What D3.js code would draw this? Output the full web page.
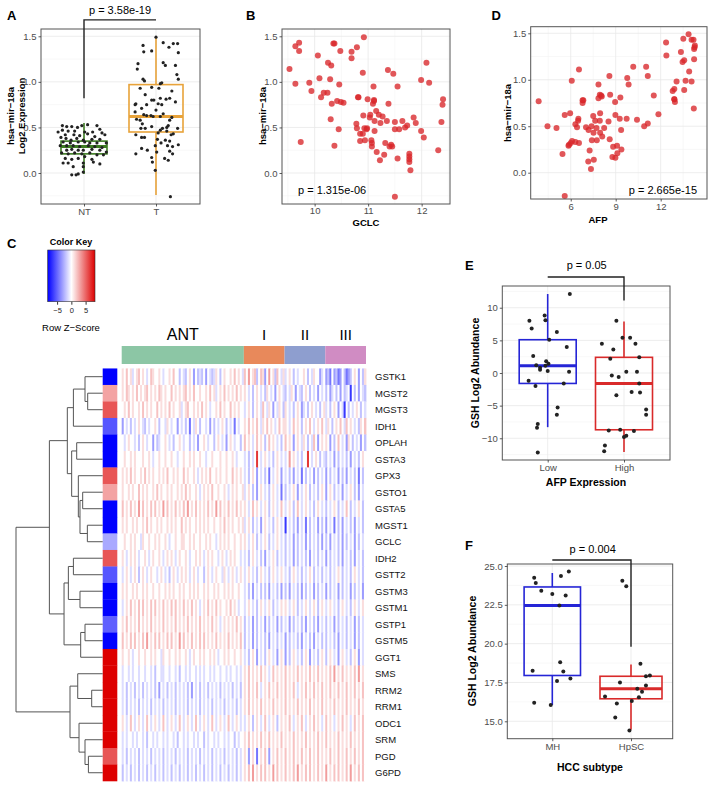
<!DOCTYPE html>
<html><head><meta charset="utf-8">
<script src="https://cdn.jsdelivr.net/npm/d3@7"></script>
<style>body{margin:0;background:#fff}svg{font-family:"Liberation Sans",Arial,Helvetica,sans-serif}</style>
</head><body><svg id="c" width="709" height="786"></svg>
<script>
// ================= DATA =================
// Panel A: [jitter (fraction of category step), log2 expression]
const groupsA = ["NT", "T"];
const ntPoints = [[-0.30,0.52],[-0.24,0.51],[-0.17,0.51],[-0.09,0.50],[-0.03,0.52],[0.05,0.53],[0.18,0.52],[0.22,0.48],[-0.36,0.45],[-0.30,0.47],[-0.22,0.46],[-0.13,0.46],[0.01,0.45],[0.12,0.45],[0.25,0.44],[-0.26,0.42],[-0.14,0.42],[-0.06,0.41],[0.05,0.43],[0.15,0.40],[0.29,0.42],[-0.32,0.39],[-0.25,0.38],[-0.18,0.36],[-0.10,0.38],[-0.01,0.36],[0.11,0.37],[0.22,0.37],[-0.29,0.34],[-0.19,0.33],[-0.08,0.34],[0.01,0.34],[0.08,0.33],[0.18,0.33],[0.31,0.33],[-0.33,0.30],[-0.24,0.30],[-0.15,0.30],[-0.06,0.29],[0.06,0.30],[0.15,0.29],[0.25,0.28],[-0.24,0.25],[-0.17,0.26],[-0.08,0.25],[-0.01,0.25],[0.11,0.26],[0.22,0.25],[0.31,0.23],[-0.31,0.22],[-0.22,0.21],[-0.13,0.22],[-0.03,0.21],[0.08,0.22],[0.18,0.20],[0.27,0.20],[-0.26,0.16],[-0.17,0.15],[-0.08,0.16],[0.01,0.18],[0.11,0.15],[-0.29,0.11],[-0.22,0.11],[-0.01,0.11],[0.13,0.12],[0.22,0.10],[-0.15,0.07],[-0.01,0.07],[-0.17,-0.02],[-0.11,-0.02],[-0.08,-0.01],[-0.01,0.01]];
const tPoints = [[0.00,1.49],[-0.18,1.40],[0.10,1.43],[0.24,1.42],[0.30,1.42],[-0.06,1.34],[-0.17,1.33],[0.31,1.32],[0.18,1.38],[-0.25,1.20],[0.10,1.21],[-0.26,1.14],[0.13,1.18],[0.29,1.08],[0.27,1.18],[-0.18,1.03],[-0.16,1.01],[0.31,1.03],[0.08,0.99],[0.06,0.98],[-0.06,0.94],[-0.22,0.93],[0.04,0.93],[0.22,0.90],[0.14,0.81],[-0.03,0.80],[-0.06,0.80],[-0.15,0.86],[0.06,0.82],[0.19,0.82],[0.27,0.78],[-0.28,0.76],[-0.29,0.75],[-0.13,0.75],[0.03,0.76],[-0.20,0.71],[0.08,0.75],[0.00,0.69],[-0.29,0.67],[0.10,0.65],[-0.17,0.64],[-0.13,0.63],[-0.07,0.63],[0.06,0.62],[-0.04,0.62],[0.22,0.61],[0.19,0.58],[-0.27,0.59],[-0.22,0.58],[-0.19,0.54],[0.17,0.52],[-0.06,0.51],[0.15,0.50],[-0.15,0.49],[-0.21,0.49],[0.06,0.47],[0.30,0.49],[0.09,0.49],[0.15,0.46],[0.21,0.42],[0.24,0.43],[-0.28,0.42],[0.03,0.44],[-0.16,0.39],[-0.20,0.39],[0.02,0.37],[0.13,0.36],[0.19,0.35],[0.31,0.31],[0.07,0.33],[0.16,0.30],[-0.01,0.30],[-0.20,0.27],[-0.12,0.25],[0.23,0.29],[0.19,0.24],[0.01,0.23],[-0.28,0.21],[0.23,0.21],[0.12,0.16],[0.17,0.14],[-0.06,0.17],[-0.05,0.12],[-0.01,0.03],[0.20,-0.26]];
// box stats: [lower whisker, Q1, median, Q3, upper whisker]
const boxA = [[-0.01,0.21,0.29,0.35,0.55],[-0.24,0.45,0.62,0.97,1.49]];
const ticksA = [0, 0.5, 1.0, 1.5];
const pA = "p = 3.58e-19";

// Panel B: [GCLC, hsa-mir-18a]
const gclcPoints = [[9.53,1.14],[9.64,1.39],[9.71,1.43],[9.71,1.34],[9.64,0.98],[9.90,0.99],[9.94,0.90],[9.74,0.34],[10.06,1.29],[10.09,1.04],[10.12,0.83],[10.17,0.88],[10.24,0.88],[10.25,1.21],[10.31,1.18],[10.29,1.03],[10.32,0.76],[10.30,0.59],[10.35,1.42],[10.37,1.42],[10.48,1.34],[10.46,0.97],[10.42,0.79],[10.49,0.78],[10.54,0.77],[10.45,0.48],[10.37,0.30],[10.69,1.33],[10.69,1.26],[10.79,1.38],[10.92,1.49],[10.90,1.10],[10.82,0.83],[10.81,0.83],[10.78,0.54],[10.79,0.49],[10.85,0.43],[10.85,0.35],[10.90,0.43],[10.91,0.63],[10.93,0.49],[10.94,0.36],[10.97,0.48],[10.98,0.49],[10.99,0.81],[11.03,0.61],[11.04,0.64],[11.06,0.36],[11.07,0.29],[11.07,0.33],[11.10,0.95],[11.09,0.76],[11.11,0.80],[11.11,0.79],[11.12,0.57],[11.12,0.46],[11.15,0.68],[11.16,0.23],[11.20,0.64],[11.22,0.14],[11.23,0.55],[11.27,0.62],[11.30,0.20],[11.32,0.33],[11.35,0.57],[11.37,1.13],[11.38,0.76],[11.40,0.29],[11.43,0.31],[11.47,1.09],[11.45,0.29],[11.50,0.56],[11.50,0.48],[11.55,0.95],[11.55,0.16],[11.50,-0.26],[11.58,0.48],[11.64,0.57],[11.69,0.50],[11.73,0.52],[11.77,0.21],[11.77,0.18],[11.77,0.15],[11.77,0.12],[11.79,0.03],[11.85,0.61],[11.89,0.55],[11.99,1.02],[11.99,0.46],[12.04,0.39],[12.09,1.21],[12.14,0.99],[12.31,0.25],[12.37,0.56],[12.40,0.81],[12.39,0.75]];
const ticksB = [10, 11, 12];
const pB = "p = 1.315e-06";

// Panel D: [AFP, hsa-mir-18a]
const afpPoints = [[3.86,0.77],[4.45,0.50],[5.05,0.48],[5.45,0.20],[5.60,-0.25],[5.60,0.62],[5.85,0.29],[5.89,0.30],[6.00,0.32],[6.09,0.34],[5.96,0.64],[6.07,0.99],[6.31,0.33],[6.31,0.52],[6.42,0.49],[6.51,0.58],[6.49,0.56],[6.55,1.11],[6.55,0.32],[6.79,0.78],[6.79,0.75],[6.84,0.78],[7.02,0.49],[7.17,0.12],[7.26,0.24],[7.35,0.04],[7.19,0.46],[7.39,0.50],[7.41,0.35],[7.50,0.61],[7.52,0.43],[7.54,0.14],[7.63,0.56],[7.72,0.48],[7.74,0.35],[7.85,0.80],[7.85,0.95],[7.94,0.84],[7.94,0.56],[7.96,0.43],[7.96,0.64],[8.07,0.82],[8.10,0.39],[8.03,0.83],[8.23,0.48],[8.52,0.55],[8.58,1.04],[8.60,0.36],[8.63,0.84],[8.78,0.17],[8.83,0.28],[8.96,0.76],[8.98,0.62],[8.98,0.16],[9.09,0.29],[9.11,0.21],[9.27,0.58],[9.31,0.81],[9.36,0.46],[9.38,0.25],[9.73,0.58],[9.77,1.02],[9.86,0.95],[10.17,1.14],[10.42,0.57],[10.90,0.50],[11.03,1.14],[11.14,1.04],[11.14,0.53],[11.54,0.83],[11.85,0.63],[12.36,1.40],[12.38,1.26],[12.80,0.88],[12.91,0.90],[12.91,0.79],[12.95,0.76],[12.91,0.79],[13.06,0.98],[13.35,1.30],[13.51,1.44],[13.46,1.19],[13.57,1.21],[13.57,0.89],[13.66,0.99],[13.86,1.49],[13.90,1.09],[14.06,1.43],[14.06,0.98],[14.19,1.43],[14.23,1.22],[14.28,1.37],[14.23,1.33],[14.26,1.35],[14.21,0.69]];
const ticksD = [6, 9, 12];
const pD = "p = 2.665e-15";

// Panel C: heatmap
const genes = ["GSTK1","MGST2","MGST3","IDH1","OPLAH","GSTA3","GPX3","GSTO1","GSTA5","MGST1","GCLC","IDH2","GSTT2","GSTM3","GSTM1","GSTP1","GSTM5","GGT1","SMS","RRM2","RRM1","ODC1","SRM","PGD","G6PD"];
const sampleGroups = ["ANT","I","II","III"];
const groupSizes = [60, 20, 20, 20];
// row side annotation value (same z colour scale)
const sideValues = [-8.3,3,5.5,-5.5,-8.3,-8.3,5.5,3,-8.3,-8.3,-2.8,5.5,-5.5,-8.3,-8.3,-5.2,-8.3,8.3,8.3,8.3,8.3,8.3,8.3,5.5,8.3];
// z-score codes per sample: '.'=0, 1..5 positive, a..e negative
const zCodes = {".":0,"1":1.1,"2":2.0,"3":3.2,"4":4.5,"5":6.5,"a":-1.1,"b":-2.0,"c":-3.2,"d":-4.5,"e":-6.5};
const heatRows = [
 "1.2.1a.12. 1.a.21..1. a..1.2..b. ab.1.c.bab .c.aba1.b. 1..1.2.1.a|2.3.12b.21 c.3.1b2.a1|a.1.b.a..1 .b.a1..ca.|cbd.cbdc.b dcb.1.c.b1",
 "1.21.1.2.1 .12.1.1.21 .1..2.1.1. 12.1.2..1. .1.2.1a.1. 2.1.1.2.1.|1.a.b.1.a. b1.a.c.1.a|b.a1.c.ab. 1.b.a.c.a.|b.ca.b.c.b a.e.b.c.ab",
 ".1.2.1..1. 2.1.1..2.1 .1.2.1..1a .12..1.1.2 .1.a..1.2. 1..2.1.1..|a.1.b.1.a2 .a1.c.a1.b|1.a.b.1.ca .b.1.a.b.1|a.b.1.c.ae .b.a.1.b.a",
 "c.a.b.a.1. ab.a..1.b. .a1.a..c.a .b.d.a1.b. .a.c.b.a.1 .b.a.d.a..|1.2.1.2.a1 .2.1.a.2.1|1.a.2.1.b. 1.2.a.1.2.|a1.b.1.2.a 2.1.a.b1.2",
 ".a.1..a.b. 1.a..c.ba. .1.a.b..1. a..b.a.c.. 1.a..b.1.a .c.1.a..b.|2.1.a.2.1. b.2.1.a.b.|2.1.c.1.a1 .b.a2.c.1.|1.c.b.2.a. c1.b.a.c.b",
 ".1..1.1... 1..1.a..1. .1..1..a.. 1..1.1..1. .a..1...1. .1..1.a...|a.b.a.5.a. 1.a.b.1.a.|a.3.1.a.b. .5.a.1.b.a|b.a.c.b.a. b.c.a.b.1.",
 "1.1.2.1..1 .2.1.1..1. 1.2..1.1.. 2.1..1.a.1 .1.2..1.1. .1..2.1.1.|a.b.1.c.a. b.d.a.1.c.|a.b.c.a.d. b.a.c.b.a.|c.b.a.c.b. c.a.b.d.b.",
 "1..1.1..2. 1.1..1.2.1 ..1.1..1.1 .2.1..1.a. 1.1.2..1.. 1.a.1.1..1|a.1.b.c.1. a.b.1.a.d.|b.a.1.c.a. 1.b.a.b.1.|c.1.b.a.c. a.1.b.c.a.",
 "2.1.2.1.3. 2.1.2.2.1. 3.2.1.2.1. 2.3.1.2.1. 1.2.1.3.2. 1.2.1.2.1.|1.a.2.1.a. 1.b.1.a.2.|a.1.b.2.a. 1.a.b.1.a.|b.a.1.b.a. 2.b.a.1.b.",
 "1.1..1.1.. 1.2.1..1.1 ..1.1.1..2 .1.1..1.1. 1.1..1..1. 2.1.1..1.1|a.1.b.a.c. 1.a.b.1.a.|e.a.b.c.a. d.b.a.c.b.|c.a.d.b.c. a.b.c.a.b.",
 ".1..1.1..a 1..1..1.1. .1.a..1..1 1..1.1..1. .1.1..a.1. 1.1..1..1.|1.a.1.b.a. 1.b.a.1.a.|b.a.c.b.a. c.b.a.b.c.|b.c.a.b.c. b.a.c.b.a.",
 "1.a.1.1.a. .1.a.1..1. a.1.1.a.1. .1.a..1.1. a.1.1..a.1 .a.1.1..a.|a.b.1.a.b. c.a.1.b.a.|b.a.c.b.a. b.c.a.b.a.|c.b.a.b.c. a.b.c.a.b.",
 "a.1.a.1.b. 1.a.1..a.1 .a.b.1.a.1 .1.a.1.a.. b.1.a.1..a 1.a.1.a.1.|a.1.a.b.1. a.b.1.a.1.|a.b.1.a.b. a.1.b.a.b.|a.b.a.1.b. a.b.1.a.b.",
 "1.1..1.1.. 1.1..1..1. .1.1.1..1. 1..1.1.1.. 1.1..1.1.. 1.1.1..1..|a.b.c.a.b. b.c.a.b.c.|b.c.a.b.c. b.a.c.b.a.|c.b.a.c.b. a.c.b.a.c.",
 "a.1.2.1.2. 2.1.2.2.1. 2.1.2.2.1. 2.1.2.1.a. 1.2.1.2.1. .1.2.1.a..|a.1.a.b.1. a.1.b.a.1.|1.a.1.b.a. 1.a.1.b.1.|a.1.a.b.1. a.b.1.a.1.",
 "1.2.1.1.2. 1.1.2.1.1. 2.1.1.2.1. 1.2.1.1.2. 1.1.2.1.a. 1.1.1.2.1.|b.a.c.b.a. c.b.a.c.b.|a.c.b.a.b. c.a.b.c.a.|b.a.c.b.a. b.a.c.b.a.",
 "2.1.2.2.1. 2.3.1.2.2. 1.2.2.1.3. 2.1.2.1.2. 2.1.1.2.1. 1.2.1.1.2.|b.a.c.b.a. b.c.a.b.a.|c.b.a.b.c. a.b.c.a.b.|b.a.b.c.a. b.a.c.b.a.",
 "1..1.a..1. .1..1.1..a 1..1..1.1. .1.a.1..1. 1..1.1.a.. 1.1..1..1.|a.b.1.c.a. b.1.a.c.1.|c.b.1.a.b. 1.c.a.b.1.|b.1.a.c.1. a.b.1.c.a.",
 "a..a.a..a. .a..a.b..a a..a..a.b. .a.a..a.a. a..a.a..a. .a.a..a.a.|1.2.1.1.2. 1.a.2.1.1.|2.1.1.2.1. 1.2.1.2.1.|1.2.3.1.2. 1.1.2.3.1.",
 "a.b.a.b.a. b.a.a.b.c. a.b.a.b.a. a.b.c.a.b. a.b.a.a.b. a.a.b.a.b.|1.2.1.2.a. 1.2.1.2.1.|2.1.2.a.1. 2.1.2.1.2.|1.2.1.2.1. 2.1.2.1.2.",
 "a.b.a.a.b. a.a.b.a.a. b.a.a.b.a. a.b.a.a.b. a.a.b.a.a. b.a.a.b.a.|1.2.1.1.2. 1.1.2.1.1.|2.1.1.2.1. 1.2.1.1.2.|1.1.2.1.1. 2.1.1.2.1.",
 "1.a.2.a.1. a.2.a.1.a. 2.a.1.a.2. a.1.a.2.a. 1.a.2.a.1. a.2.a.1.a.|a.1.b.1.a. 2.a.1.b.1.|1.2.a.1.2. a.1.2.1.a.|2.1.a.1.2. 1.a.2.1.2.",
 "a.a..a.a.. a.b..a.a.. a.a..a.b.. a.a..a.a.. b.a..a.a.. a.a..b.a..|1.2.1.1.2. 1.2.1.1.2.|1.1.2.1.1. 2.1.1.2.1.|2.1.1.2.1. 1.2.1.1.2.",
 "a.b.a.a.b. a.a.b.a.a. b.a.a.b.a. a.b.a.a.b. a.a.b.a.a. b.a.a.b.a.|1.c.1.d.1. 2.c.1.2.1.|2.1.2.1.2. 1.2.1.2.1.|1.2.1.2.1. 2.1.2.1.2.",
 "b.a.b.a.b. a.b.a.b.a. b.a.b.a.b. a.b.a.b.a. b.a.b.a.b. a.b.a.b.a.|1.2.3.1.2. 2.1.3.2.1.|2.1.2.3.1. 2.2.1.2.1.|3.1.2.2.1. 2.3.1.2.2."
];
// row dendrogram: [merge height, left, right], leaves = row index
const dendro = [10,
  [6.15,
    [4.08,
      [3.38, [2.04, 0, [1.73, 1, 2]], 3],
      [3.58, [3.0, 4, 5], [2.81, 6, [2.62, [2.31, 7, 8], [1.77, 9, 10]]]]],
    [4.46,
      [3.96, [3.38, 11, 12], [2.62, 13, 14]],
      [2.54, [2.04, 15, 16], 17]]],
  [3.77,
    [2.88, 18, [1.27, 19, 20]],
    [2.73, 21, [2.04, 22, [1.65, 23, 24]]]]
];
const keyTicks = [-5, 0, 5];

// Panel E
const groupsE = ["Low", "High"];
const lowPoints = [[0.29,12.1],[-0.24,8.0],[-0.21,6.8],[-0.04,8.8],[-0.03,8.1],[0.12,6.3],[0.02,5.1],[0.25,4.0],[-0.19,2.6],[-0.02,1.8],[-0.15,1.2],[0.01,1.4],[-0.10,0.8],[-0.10,0.5],[-0.03,1.1],[0.00,0.3],[0.28,0.2],[-0.25,-1.2],[-0.16,-2.0],[0.21,-1.6],[0.13,-5.3],[0.12,-6.4],[-0.13,-7.8],[-0.14,-8.4],[-0.13,-12.2]];
const highPoints = [[-0.10,8.0],[-0.29,4.5],[-0.14,3.6],[-0.02,5.4],[0.08,5.4],[0.15,4.5],[-0.18,2.2],[0.20,2.4],[-0.16,-0.4],[-0.07,-0.6],[0.03,0.2],[0.17,0.2],[0.20,-1.6],[0.10,-2.9],[0.21,-3.0],[-0.10,-3.4],[0.29,-5.6],[0.29,-6.4],[-0.20,-8.8],[-0.05,-8.7],[0.13,-8.9],[0.00,-9.8],[0.03,-9.6],[-0.25,-11.1],[-0.26,-12.0]];
const boxE = [[-8.3,-1.6,1.1,5.1,12.1],[-12.1,-8.7,-1.6,2.4,7.9]];
const ticksE = [-10, -5, 0, 5, 10];
const pE = "p = 0.05";

// Panel F
const groupsF = ["MH", "HpSC"];
const mhPoints = [[-0.23,24.25],[-0.21,23.9],[-0.14,23.4],[0.00,23.2],[0.11,24.35],[0.21,24.65],[0.17,23.1],[0.09,22.45],[-0.25,18.25],[0.10,18.8],[0.14,18.2],[0.06,17.6],[0.23,17.75],[-0.23,16.2],[-0.02,16.05]];
const hpscPoints = [[-0.11,24.05],[-0.06,23.7],[0.12,18.7],[-0.14,17.5],[0.19,17.9],[0.24,17.95],[0.19,17.3],[0.08,17.1],[0.14,16.9],[0.10,16.55],[-0.33,16.6],[0.01,16.3],[-0.18,16.15],[-0.20,15.25],[-0.02,14.4]];
const boxF = [[16.05,17.95,22.45,23.65,24.55],[14.45,16.45,17.1,17.9,18.65]];
const ticksF = [15, 17.5, 20, 22.5, 25];
const pF = "p = 0.004";

// ================= DRAWING =================
const svg = d3.select("#c");
const GRID_MAJ = "#e8e8e8", GRID_MIN = "#f3f3f3", FRAME = "#555";

function label(g, x, y, txt, opt = {}) {
  const t = g.append("text").attr("x", x).attr("y", y).text(txt)
    .attr("font-size", opt.size || 9).attr("fill", opt.fill || "#000")
    .attr("text-anchor", opt.anchor || "middle")
    .attr("dominant-baseline", opt.baseline || "central");
  if (opt.bold) t.attr("font-weight", "bold");
  if (opt.rotate) t.attr("transform", `rotate(${opt.rotate},${x},${y})`);
  return t;
}

function panel(box, xs, ys, xMaj, xMin, yMaj, yMin) {
  const g = svg.append("g");
  const [x0, y0, x1, y1] = box;
  const gl = (vals, vert, col, w) => g.append("g").selectAll("line").data(vals).join("line")
    .attr("x1", d => vert ? xs(d) : x0).attr("x2", d => vert ? xs(d) : x1)
    .attr("y1", d => vert ? y0 : ys(d)).attr("y2", d => vert ? y1 : ys(d))
    .attr("stroke", col).attr("stroke-width", w);
  gl(yMin, false, GRID_MIN, 0.6); gl(xMin, true, GRID_MIN, 0.6);
  gl(yMaj, false, GRID_MAJ, 0.8); gl(xMaj, true, GRID_MAJ, 0.8);
  return g;
}
function frame(g, box) {
  const [x0, y0, x1, y1] = box;
  g.append("rect").attr("x", x0).attr("y", y0).attr("width", x1 - x0).attr("height", y1 - y0)
    .attr("fill", "none").attr("stroke", FRAME).attr("stroke-width", 1);
}
function styleAxis(a, size) {
  a.select(".domain").remove();
  a.attr("font-family", null).attr("font-size", null);
  a.selectAll("line").attr("stroke", "#333").attr("stroke-width", 0.8);
  a.selectAll("text").attr("fill", "#4d4d4d").attr("font-size", size);
}
function axes(g, box, xs, ys, xTicks, yTicks, yFmt, size, xPad) {
  const [x0, y0, x1, y1] = box;
  const ax = g.append("g").attr("transform", `translate(0,${y1})`)
    .call(d3.axisBottom(xs).tickValues(xTicks).tickSize(2.5).tickPadding(xPad == null ? 2 : xPad).tickFormat(d => d));
  styleAxis(ax, size);
  const ay = g.append("g").attr("transform", `translate(${x0},0)`)
    .call(d3.axisLeft(ys).tickValues(yTicks).tickSize(2.5).tickPadding(2).tickFormat(yFmt));
  styleAxis(ay, size);
}
function boxplot(g, cx, hw, s, ys, col) {
  const [lo, q1, md, q3, hi] = s;
  g.append("line").attr("x1", cx).attr("x2", cx).attr("y1", ys(hi)).attr("y2", ys(q3)).attr("stroke", col).attr("stroke-width", 1.6);
  g.append("line").attr("x1", cx).attr("x2", cx).attr("y1", ys(q1)).attr("y2", ys(lo)).attr("stroke", col).attr("stroke-width", 1.6);
  g.append("rect").attr("x", cx - hw).attr("width", 2 * hw).attr("y", ys(q3)).attr("height", ys(q1) - ys(q3))
    .attr("fill", "none").attr("stroke", col).attr("stroke-width", 1.6);
  g.append("line").attr("x1", cx - hw).attr("x2", cx + hw).attr("y1", ys(md)).attr("y2", ys(md)).attr("stroke", col).attr("stroke-width", 3);
}
function jitterPts(g, pts, cx, step, ys, r, col) {
  g.append("g").selectAll("circle").data(pts).join("circle")
    .attr("cx", d => cx + d[0] * step).attr("cy", d => ys(d[1])).attr("r", r).attr("fill", col);
}
function bracket(g, pts) {
  g.append("path").attr("d", d3.line()(pts)).attr("fill", "none").attr("stroke", "#222").attr("stroke-width", 1.4);
}

// ---------- Panel A ----------
{
  const box = [41, 29, 200, 204];
  const xs = d3.scalePoint().domain(groupsA).range([84, 156]);
  const ys = d3.scaleLinear().domain([-0.34, 1.58]).range([204, 29]);
  const step = xs.step();
  const g = panel(box, xs, ys, groupsA, [], ticksA, [-0.25, 0.25, 0.75, 1.25]);
  const cols = ["#3e7d22", "#e8a33a"];
  boxplot(g, xs("NT"), 23, boxA[0], ys, cols[0]);
  boxplot(g, xs("T"), 27, boxA[1], ys, cols[1]);
  jitterPts(g, ntPoints, xs("NT"), step, ys, 1.6, "#222");
  jitterPts(g, tPoints, xs("T"), step, ys, 1.6, "#222");
  frame(g, box);
  axes(g, box, xs, ys, groupsA, ticksA, d3.format(".1f"), 9.5);
  bracket(g, [[xs("NT"), ys(0.82)], [xs("NT"), ys(1.68)], [xs("T"), ys(1.68)]]);
  label(g, 120, 10, pA, {size: 11});
  label(g, 10.5, 116, "hsa\u2212mir\u221218a", {bold: true, size: 9.5, rotate: -90});
  label(g, 21, 116, "Log2 Expression", {bold: true, size: 9.5, rotate: -90});
  label(g, 7, 20, "A", {bold: true, size: 13, anchor: "start", baseline: "auto"});
}

// ---------- Panel B ----------
{
  const box = [282, 29, 450, 204];
  const xs = d3.scaleLinear().domain([9.39, 12.53]).range([282, 450]);
  const ys = d3.scaleLinear().domain([-0.34, 1.58]).range([204, 29]);
  const g = panel(box, xs, ys, ticksB, [9.5, 10.5, 11.5, 12.5], ticksA, [-0.25, 0.25, 0.75, 1.25]);
  g.append("g").selectAll("circle").data(gclcPoints).join("circle")
    .attr("cx", d => xs(d[0])).attr("cy", d => ys(d[1])).attr("r", 3)
    .attr("fill", "#d9262a").attr("fill-opacity", 0.78);
  frame(g, box);
  axes(g, box, xs, ys, ticksB, ticksA, d3.format(".1f"), 9.5, 1);
  label(g, 298, 189.5, pB, {size: 11, anchor: "start"});
  label(g, 366, 222, "GCLC", {bold: true, size: 9.5});
  label(g, 262, 116, "hsa\u2212mir\u221218a", {bold: true, size: 9.5, rotate: -90});
  label(g, 246, 20, "B", {bold: true, size: 13, anchor: "start", baseline: "auto"});
}

// ---------- Panel D ----------
{
  const box = [530.7, 26.7, 707, 199];
  const xs = d3.scaleLinear().domain([3.33, 15.09]).range([530.7, 707]);
  const ys = d3.scaleLinear().domain([-0.283, 1.571]).range([199, 26.7]);
  const g = panel(box, xs, ys, ticksD, [4.5, 7.5, 10.5, 13.5], ticksA, [-0.25, 0.25, 0.75, 1.25]);
  g.append("g").selectAll("circle").data(afpPoints).join("circle")
    .attr("cx", d => xs(d[0])).attr("cy", d => ys(d[1])).attr("r", 3)
    .attr("fill", "#d9262a").attr("fill-opacity", 0.78);
  frame(g, box);
  axes(g, box, xs, ys, ticksD, ticksA, d3.format(".1f"), 9.5);
  label(g, 697, 189.5, pD, {size: 11, anchor: "end"});
  label(g, 598, 219, "AFP", {bold: true, size: 9.5});
  label(g, 507, 113, "hsa\u2212mir\u221218a", {bold: true, size: 9.5, rotate: -90});
  label(g, 491.5, 20, "D", {bold: true, size: 13, anchor: "start", baseline: "auto"});
}

// ---------- Panel C (heatmap) ----------
{
  const g = svg.append("g");
  const z = d3.scaleLinear().domain([-8.3, 0, 8.3]).range(["#0000ff", "#ffffff", "#dd0000"]).clamp(true);
  const nCols = d3.sum(groupSizes);
  const xs = d3.scaleBand().domain(d3.range(nCols)).range([121.7, 366]);
  const ys = d3.scaleBand().domain(d3.range(genes.length)).range([368.45, 781]);
  const starts = d3.cumsum([0, ...groupSizes]);
  const cells = [];
  heatRows.forEach((row, r) => {
    const segs = row.split("|").map(s => s.replace(/ /g, ""));
    segs.forEach((s, k) => {
      for (let i = 0; i < groupSizes[k]; i++) {
        const ch = s[i] || ".";
        cells.push({r, c: starts[k] + i, v: zCodes[ch]});
      }
    });
  });
  g.append("g").selectAll("rect").data(cells).join("rect")
    .attr("x", d => xs(d.c)).attr("y", d => ys(d.r))
    .attr("width", xs.bandwidth() + 0.4).attr("height", ys.bandwidth() + 0.4)
    .attr("fill", d => z(d.v));
  // row side colours
  g.append("g").selectAll("rect").data(sideValues).join("rect")
    .attr("x", 102.7).attr("width", 14.6).attr("y", (d, i) => ys(i)).attr("height", ys.bandwidth() + 0.3)
    .attr("fill", d => z(d));
  // column group bar
  const grpCols = ["#8cc6a5", "#e8895b", "#8e9ecf", "#d08cc3"];
  sampleGroups.forEach((gname, k) => {
    const xa = xs(starts[k]), xb = xs(starts[k + 1] - 1) + xs.bandwidth();
    g.append("rect").attr("x", xa).attr("y", 346).attr("width", xb - xa).attr("height", 18).attr("fill", grpCols[k]);
    label(g, (xa + xb) / 2, 334.5, gname, {size: gname === "ANT" ? 16 : 15});
  });
  // gene labels
  g.append("g").selectAll("text").data(genes).join("text")
    .attr("x", 375).attr("y", (d, i) => ys(i) + ys.bandwidth() / 2).attr("dominant-baseline", "central")
    .attr("font-size", 9.5).attr("fill", "#111").text(d => d);
  // dendrogram
  const dx = d3.scaleLinear().domain([0, 10]).range([102.7, 16]);
  const segs = [];
  function walk(node) {
    if (typeof node === "number") return {x: dx(0), y: ys(node) + ys.bandwidth() / 2};
    const [h, l, r] = node;
    const a = walk(l), b = walk(r), x = dx(h);
    segs.push([[a.x, a.y], [x, a.y], [x, b.y], [b.x, b.y]]);
    return {x, y: (a.y + b.y) / 2};
  }
  walk(dendro);
  g.append("g").selectAll("path").data(segs).join("path").attr("d", d => d3.line()(d))
    .attr("fill", "none").attr("stroke", "#555").attr("stroke-width", 1);
  // colour key
  const kx = d3.scaleLinear().domain([-8.3, 8.3]).range([47.7, 95]);
  const defs = svg.append("defs");
  const grad = defs.append("linearGradient").attr("id", "kg");
  d3.range(0, 1.0001, 0.1).forEach(t => grad.append("stop").attr("offset", t).attr("stop-color", z(-8.3 + 16.6 * t)));
  g.append("rect").attr("x", 47.7).attr("y", 250).attr("width", 47.3).attr("height", 51.7).attr("fill", "url(#kg)")
    .attr("stroke", "#333").attr("stroke-width", 0.6);
  const ka = g.append("g").attr("transform", "translate(0,301.7)")
    .call(d3.axisBottom(kx).tickValues(keyTicks).tickSize(3).tickPadding(3).tickFormat(d3.format("d")));
  ka.select(".domain").remove();
  ka.attr("font-family", null).attr("font-size", null);
  ka.selectAll("line").attr("stroke", "#333");
  ka.selectAll("text").attr("font-size", 7.5).attr("fill", "#222");
  label(g, 71, 242, "Color Key", {bold: true, size: 9});
  label(g, 71, 327, "Row Z\u2212Score", {size: 9.5});
  label(g, 7, 247.5, "C", {bold: true, size: 13, anchor: "start", baseline: "auto"});
}

// ---------- Panel E ----------
{
  const box = [502.3, 286, 670, 460];
  const xs = d3.scalePoint().domain(groupsE).range([547.7, 624]);
  const ys = d3.scaleLinear().domain([-13.33, 13.33]).range([460, 286]);
  const step = xs.step();
  const g = panel(box, xs, ys, groupsE, [], ticksE, [-12.5, -7.5, -2.5, 2.5, 7.5, 12.5]);
  boxplot(g, xs("Low"), 28.5, boxE[0], ys, "#2525d6");
  boxplot(g, xs("High"), 28.5, boxE[1], ys, "#d92a2a");
  jitterPts(g, lowPoints, xs("Low"), step, ys, 2, "#222");
  jitterPts(g, highPoints, xs("High"), step, ys, 2, "#222");
  frame(g, box);
  axes(g, box, xs, ys, groupsE, ticksE, d3.format("d"), 9.5);
  bracket(g, [[xs("Low"), ys(14.7)], [xs("High"), ys(14.7)], [xs("High"), ys(11.1)]]);
  label(g, 586.7, 265, pE, {size: 11});
  label(g, 586, 482, "AFP Expression", {bold: true, size: 10.5});
  label(g, 475, 373, "GSH Log2 Abundance", {bold: true, size: 10.5, rotate: -90});
  label(g, 465, 270, "E", {bold: true, size: 13, anchor: "start", baseline: "auto"});
}

// ---------- Panel F ----------
{
  const box = [507.3, 564, 672.7, 738.7];
  const xs = d3.scalePoint().domain(groupsF).range([552.3, 631]);
  const ys = d3.scaleLinear().domain([13.88, 25.129]).range([738.7, 564]);
  const step = xs.step();
  const g = panel(box, xs, ys, groupsF, [], ticksF, [16.25, 18.75, 21.25, 23.75]);
  boxplot(g, xs("MH"), 28.2, boxF[0], ys, "#2525d6");
  boxplot(g, xs("HpSC"), 31, boxF[1], ys, "#d92a2a");
  jitterPts(g, mhPoints, xs("MH"), step, ys, 2, "#222");
  jitterPts(g, hpscPoints, xs("HpSC"), step, ys, 2, "#222");
  frame(g, box);
  axes(g, box, xs, ys, groupsF, ticksF, d3.format(".1f"), 9.5);
  bracket(g, [[xs("MH"), ys(25.39)], [xs("HpSC"), ys(25.39)], [xs("HpSC"), ys(19.8)]]);
  label(g, 592.7, 549, pF, {size: 11});
  label(g, 590, 767, "HCC subtype", {bold: true, size: 10.5});
  label(g, 472, 651, "GSH Log2 Abundance", {bold: true, size: 10.5, rotate: -90});
  label(g, 465, 550, "F", {bold: true, size: 13, anchor: "start", baseline: "auto"});
}
</script></body></html>
